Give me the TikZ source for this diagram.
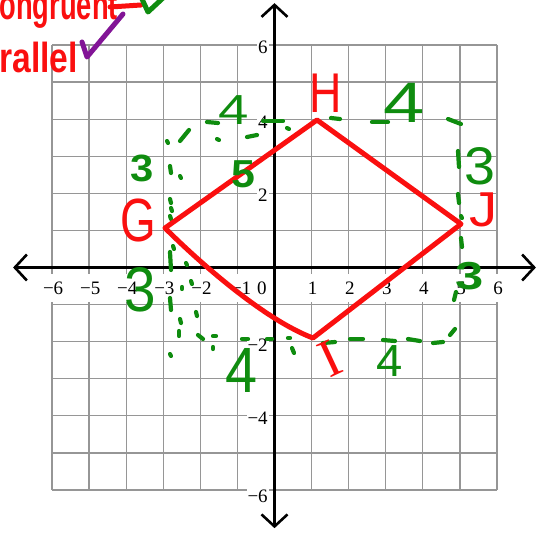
\documentclass[tikz,border=0pt]{standalone}
\usepackage{fontspec}
\usepackage{graphicx}
\setmainfont{Liberation Serif}
\newfontfamily\handfont{Liberation Sans}
\usetikzlibrary{arrows.meta}
\definecolor{gridgray}{RGB}{150,150,150}
\definecolor{penred}{RGB}{250,15,15}
\definecolor{pengreen}{RGB}{15,140,15}
\definecolor{penpurple}{RGB}{130,20,150}
\newcommand\hsz[1]{\handfont\fontsize{#1}{#1}\selectfont}
\newcommand\hbz[1]{\handfont\bfseries\fontsize{#1}{#1}\selectfont}
\newcommand\lsz{\fontsize{19}{19}\selectfont}
\begin{document}
\begin{tikzpicture}[x=1pt,y=-1pt,
  gridln/.style={draw=gridgray,line width=1.3pt},
  axisln/.style={draw=black,line width=2.6pt,>={Straight Barb[length=12pt,width=26pt]},<->},
  xlab/.style={font=\lsz,fill=white,inner xsep=1pt,inner ysep=0pt,minimum height=28pt},
  ylab/.style={font=\lsz,fill=white,inner xsep=1pt,inner ysep=1pt,anchor=east},
  gpen/.style={draw=pengreen,line width=4.2pt,line cap=round},
  rpen/.style={draw=penred,line width=5pt,line cap=round,line join=round},
  ppen/.style={draw=penpurple,line width=5pt,line cap=round,line join=round},
  gnum/.style={text=pengreen,inner sep=0pt},
  rlet/.style={text=penred,inner sep=0pt}]
\useasboundingbox (0,0) rectangle (538,533);
% ---- graph paper ----
\begin{scope}[shift={(274.5,267.5)},x=37.08pt,y=37.08pt]
  \foreach \k in {-6,...,6} {
    \draw[gridln] (\k,-6) -- (\k,6);
    \draw[gridln] (-6,\k) -- (6,\k);
  }
  \foreach \v/\t in {-6/−6,-5/−5,-4/−4,-3/−3,-2/−2,1/1,2/2,3/3,4/4,5/5,6/6}
    \node[xlab] (xt\v) at (\v+0.03,-0.553) {\t};
  \node[xlab] (xtm1) at (-0.9,-0.553) {−1};
  \node[xlab] (xt0) at (-0.34,-0.553) {0};
  \node[ylab] (yt6) at (-0.15,5.93) {6};
  \node[ylab] (yt4) at (-0.15,3.92) {4};
  \node[ylab] (yt2) at (-0.15,1.955) {2};
  \node[ylab] (ytm2) at (-0.15,-2.09) {−2};
  \node[ylab] (ytm4) at (-0.15,-4.07) {−4};
  \node[ylab] (ytm6) at (-0.15,-6.16) {−6};
  \coordinate (xL) at (-7.05,0);
  \coordinate (xR) at (7.05,0);
  \coordinate (yB) at (0,-7.03);
  \coordinate (yT) at (0,7.13);
  \draw[axisln] (xL) -- (xR);
  \draw[axisln] (yB) -- (yT);
\end{scope}
% ---- green dotted rectangle ----
\foreach \a/\b/\c/\d in {167/141/168/143,180/141/189/130,207/122/218/123,217/139/219/140,
  247/137/257/135,263/121/283/121,287/128/289/129,331/118/340/119,372/122/388/122,
  448/119/461/124,458/151/459/167,458/194/459/203,461/216/462/218,461/238/462/247,
  456/292/454/300,455/329/450/335,433/343/443/342,408/339/420/341,383/340/395/341,
  350/339/363/339,323/343/335/342,292/348/294/353,288/338/290/338,267/339/272/339,
  242/339/248/339,213/336/216/336,213/347/213/349,198/335/203/339,170/166/171/173,
  180/176/181/178,170/199/171/203,171/208/172/211,170/216/171/219,173/246/174/249,
  170/252/171/270,186/263/187/265,191/281/192/284,182/287/182/289,170/298/171/310,
  196/312/197/316,180/319/181/323,179/331/179/336,170/354/171/356}
  \draw[gpen] (\a,\b) -- (\c,\d);
% ---- red quadrilateral ----
\coordinate (G) at (165,228);
\coordinate (H) at (317,120);
\coordinate (J) at (461,224);
\coordinate (I) at (313,338);
\draw[rpen] (G) -- (H) -- (J) -- (I) .. controls (265,320) and (200,263) .. (G);
% ---- red labels ----
\node[rlet,font=\hsz{61}] (lG) at (138,220) {\scalebox{0.75}[1]{G}};
\node[rlet,font=\hsz{56}] (lH) at (326,93) {\scalebox{0.8}[1]{H}};
\node[rlet,font=\hsz{49}] (lJ) at (484,210) {\scalebox{1.15}[1]{J}};
\node[rlet,font=\rmfamily\fontsize{54}{54}\selectfont,rotate=25] (lI) at (330,359) {I};
% ---- top-left notes ----
\node[rlet,font=\hbz{42},anchor=base east] (tc) at (118,19) {\scalebox{0.65}[1]{congruent}};
\node[rlet,font=\hbz{42},anchor=base east] (tp) at (78,72) {\scalebox{0.8}[1]{parallel}};
\coordinate (d1) at (110,7); \coordinate (d2) at (141,5);
\draw[rpen] (d1) -- (d2);
\coordinate (c1) at (142,-1); \coordinate (c2) at (148,12); \coordinate (c3) at (163,-2);
\draw[gpen,line join=round,line width=5pt] (c1) -- (c2) -- (c3);
\coordinate (p1) at (82,42); \coordinate (p2) at (87,57); \coordinate (p3) at (123,14);
\draw[ppen] (p1) -- (p2) -- (p3);
% ---- green numbers ----
\node[gnum,font=\hsz{42}] (n1) at (234,110) {\scalebox{1.3}[1]{4}};
\node[gnum,font=\hsz{57}] (n2) at (404,103) {\scalebox{1.3}[1]{4}};
\node[gnum,font=\hbz{38}] (n3) at (142,168) {\scalebox{1.1}[1]{3}};
\node[gnum,font=\hbz{39}] (n4) at (243,174) {\scalebox{1.1}[1]{5}};
\node[gnum,font=\hsz{53}] (n5) at (480,166) {\scalebox{1.05}[1]{3}};
\node[gnum,font=\hsz{63}] (n6) at (140,290) {\scalebox{0.9}[1]{3}};
\node[gnum,font=\hbz{39}] (n7) at (470,276) {\scalebox{1.3}[1]{3}};
\node[gnum,font=\hsz{64}] (n8) at (242,370) {\scalebox{0.9}[1]{4}};
\node[gnum,font=\hsz{45}] (n9) at (390,361) {\scalebox{1.05}[1]{4}};
\end{tikzpicture}
\end{document}
